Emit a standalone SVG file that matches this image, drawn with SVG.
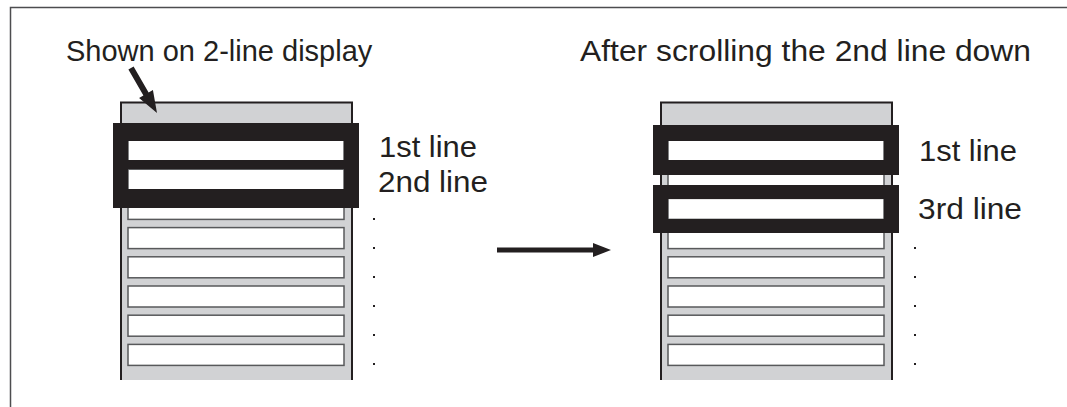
<svg xmlns="http://www.w3.org/2000/svg" width="1067" height="407" viewBox="0 0 1067 407">
<style>
.t{font-family:"Liberation Sans",Arial,sans-serif;font-size:29px;fill:#231f20}
.l{font-family:"Liberation Sans",Arial,sans-serif;font-size:30px;fill:#231f20}
.panel{fill:#d1d2d4}
.edge{stroke:#231f20;stroke-width:2;fill:none}
.row{fill:#fff;stroke:#58595b;stroke-width:1.5}
.blk{fill:#231f20}
.dot{fill:#231f20}
</style>
<rect width="1067" height="407" fill="#fff"/>
<path d="M10.5 407V7.5H1067" fill="none" stroke="#4d4d4f" stroke-width="1.5"/>

<g id="title-left"><text class="t" x="66" y="61">Shown on 2-line display</text></g>
<g id="title-right"><text class="t" x="580" y="61" textLength="451" lengthAdjust="spacingAndGlyphs">After scrolling the 2nd line down</text></g>

<g id="panel-left">
<rect class="panel" x="120" y="102" width="233" height="278"/>
<path class="edge" d="M121 380V102.5H352V380"/>
<rect class="row" x="128" y="140" width="216" height="21"/>
<rect class="row" x="128" y="169.2" width="216" height="21"/>
<rect class="row" x="128" y="198.4" width="216" height="21"/>
<rect class="row" x="128" y="227.6" width="216" height="21"/>
<rect class="row" x="128" y="256.8" width="216" height="21"/>
<rect class="row" x="128" y="286" width="216" height="21"/>
<rect class="row" x="128" y="315.2" width="216" height="21"/>
<rect class="row" x="128" y="344.4" width="216" height="21"/>
</g>
<g id="window-left">
<path class="blk" fill-rule="evenodd" d="M113 123H359V208H113Z M128 141V160H344V141Z M128 169V189H344V169Z"/>
</g>
<g id="labels-left">
<text class="l" x="379" y="157" textLength="98" lengthAdjust="spacingAndGlyphs">1st line</text>
<text class="l" x="378" y="192" textLength="110" lengthAdjust="spacingAndGlyphs">2nd line</text>
<rect class="dot" x="373" y="218" width="2" height="2"/>
<rect class="dot" x="373" y="247" width="2" height="2"/>
<rect class="dot" x="373" y="276" width="2" height="2"/>
<rect class="dot" x="373" y="305" width="2" height="2"/>
<rect class="dot" x="373" y="334" width="2" height="2"/>
<rect class="dot" x="373" y="363" width="2" height="2"/>
</g>

<g id="panel-right">
<rect class="panel" x="660" y="102" width="233" height="278"/>
<path class="edge" d="M661 380V102.5H892V380"/>
<rect class="row" x="668" y="140" width="216" height="21"/>
<rect class="row" x="668" y="169.2" width="216" height="21"/>
<rect class="row" x="668" y="198.4" width="216" height="21"/>
<rect class="row" x="668" y="227.6" width="216" height="21"/>
<rect class="row" x="668" y="256.8" width="216" height="21"/>
<rect class="row" x="668" y="286" width="216" height="21"/>
<rect class="row" x="668" y="315.2" width="216" height="21"/>
<rect class="row" x="668" y="344.4" width="216" height="21"/>
</g>
<g id="window-right-1">
<path class="blk" fill-rule="evenodd" d="M653 125H899V175H653Z M668 141V160H884V141Z"/>
</g>
<g id="window-right-2">
<path class="blk" fill-rule="evenodd" d="M653 185H899V233H653Z M668 199V219H884V199Z"/>
</g>
<g id="labels-right">
<text class="l" x="919" y="161" textLength="98" lengthAdjust="spacingAndGlyphs">1st line</text>
<text class="l" x="918" y="219" textLength="104" lengthAdjust="spacingAndGlyphs">3rd line</text>
<rect class="dot" x="914" y="247" width="2" height="2"/>
<rect class="dot" x="914" y="276" width="2" height="2"/>
<rect class="dot" x="914" y="305" width="2" height="2"/>
<rect class="dot" x="914" y="334" width="2" height="2"/>
<rect class="dot" x="914" y="363" width="2" height="2"/>
</g>

<g id="connectors">
<g transform="translate(131 68) rotate(60)">
<polygon fill="#231f20" points="0,-3 30,-3 30,-8 52,0 30,8 30,3 0,3"/>
</g>
<polygon fill="#231f20" points="497,247.5 593,247.5 593,243 611,250 593,257 593,252.5 497,252.5"/>
</g>
</svg>
